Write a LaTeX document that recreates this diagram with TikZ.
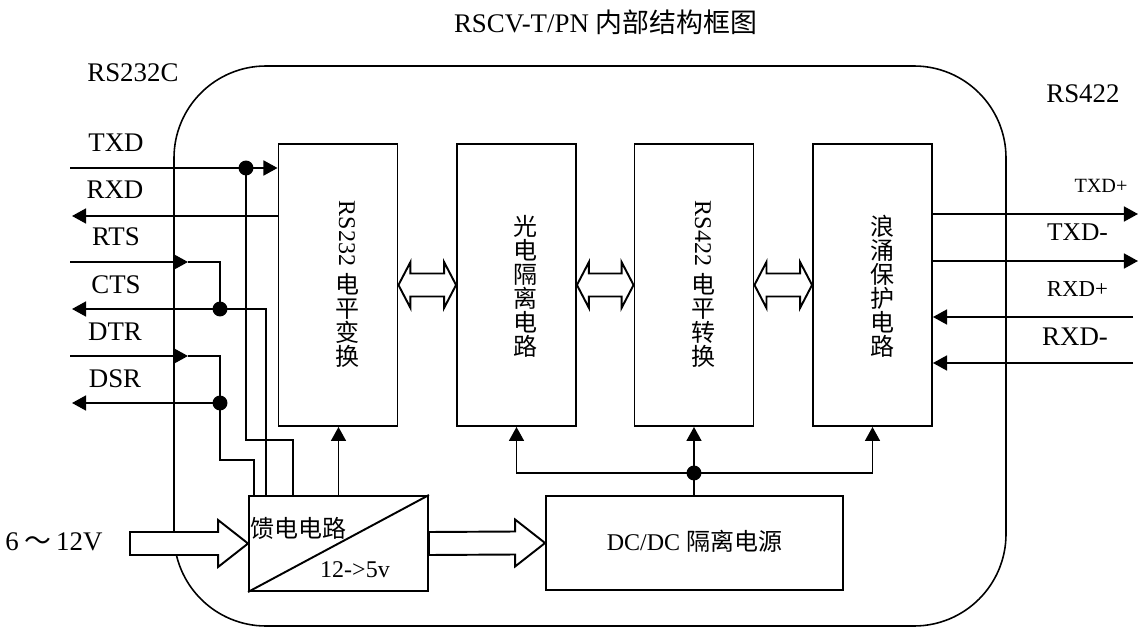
\documentclass[tikz,border=0pt]{standalone}
\usepackage{fontspec}
\setmainfont{Liberation Serif}
\newfontfamily\cjk{Noto Sans CJK SC}
\usetikzlibrary{arrows.meta,calc}
\newcommand\dblarr[2]{\draw[hollow] (#1) -- ++(12,-23) -- ++(0,11.5) -- ($(#2)+(-12,-11.5)$) -- ++(0,-11.5) -- (#2) -- ++(-12,23) -- ++(0,-11.5) -- ($(#1)+(12,11.5)$) -- ++(0,11.5) -- cycle;}
\newcommand\fatarr[2]{\draw[hollow] ($(#1)+(0,-11.5)$) -- ($(#2)+(-30,-11.5)$) -- ++(0,-12) -- (#2) -- ($(#2)+(-30,23.5)$) -- ++(0,-12) -- ($(#1)+(0,11.5)$) -- cycle;}
\begin{document}
\begin{tikzpicture}[x=0.02cm,y=-0.02cm,
  ln/.style={line width=1.1pt},
  arr/.style={line width=1.1pt,-{Triangle[length=8pt,width=8.5pt]}},
  blk/.style={draw,line width=1.1pt,minimum width=2.38cm,minimum height=5.64cm,inner sep=0},
  box/.style={draw,line width=1.1pt,inner sep=0},
  dot/.style={circle,fill,inner sep=0,minimum size=8.5pt},
  hollow/.style={draw,fill=white,line width=1.1pt,line join=miter},
  lbl/.style={inner sep=0,font=\fontsize{15.3}{18}\selectfont},
  mid/.style={inner sep=0,font=\fontsize{13.66}{14}\selectfont},
  vt/.style={inner sep=0,align=center,font=\cjk\fontsize{13.66}{13.66}\selectfont},
  rt/.style={inner sep=0,rotate=-90,font=\fontsize{13.66}{14}\selectfont}
]
\useasboundingbox (0,0) rectangle (1142,628);
% outer border
\draw[line width=0.9pt,rounded corners=1.84cm] (174,66) rectangle (1006,626);

% blocks
\node[blk] (b232) at (338,285) {};
\node[blk] (bopt) at (516.5,285) {};
\node[blk] (b422) at (694,285) {};
\node[blk] (bsurge) at (872.5,285) {};
\node[box,minimum width=3.58cm,minimum height=1.9cm] (feed) at (338.5,543.5) {};
\node[box,minimum width=5.94cm,minimum height=1.88cm] (dcdc) at (694.5,543) {};
\draw[ln] (feed.south west) -- (feed.north east);

% block texts
\node[rt] (t232a) at (347,233.5) {RS232};
\node[vt] (t232b) at (347,320) {电\\平\\变\\换};
\node[vt] (topt) at (525,286) {光\\电\\隔\\离\\电\\路};
\node[rt] (t422a) at (703,233.5) {RS422};
\node[vt] (t422b) at (703,320) {电\\平\\转\\换};
\node[vt] (tsurge) at (882,286) {浪\\涌\\保\\护\\电\\路};
\node[mid,anchor=base] (tfeed) at (298,537) {\cjk 馈电电路};
\node[mid,anchor=base] (t125) at (355,577) {12->5v};
\node[mid,anchor=base] (tdc) at (694.5,550) {DC/DC {\cjk 隔离电源}};

% double arrows between blocks
\dblarr{b232.east}{bopt.west}
\dblarr{bopt.east}{b422.west}
\dblarr{b422.east}{bsurge.west}

% fat arrows
\coordinate (vin) at (130,543.5);
\fatarr{vin}{feed.west}
\fatarr{feed.east}{dcdc.west}

% feed connections
\coordinate (f1) at ($(feed.north west)+(6,0)$);
\coordinate (f2) at ($(feed.north west)+(18,0)$);
\coordinate (f3) at ($(feed.north west)+(45,0)$);
\draw[arr] (feed.north) -- (feed.north |- b232.south);

% left signals
\node[dot] (dtx) at (246,168) {};
\node[dot] (dcts) at (220,309) {};
\node[dot] (ddsr) at (220,403) {};
\coordinate (txdL) at (70,168);
\coordinate (rxdL) at (72,216);
\coordinate (rtsL) at (70,262);
\coordinate (rtsT) at (188,262);
\coordinate (ctsL) at (72,309);
\coordinate (dtrL) at (70,356);
\coordinate (dtrT) at (188,356);
\coordinate (dsrL) at (72,403);
\draw[arr] (txdL) -- (b232.west |- txdL);
\draw[arr] (b232.west |- rxdL) -- (rxdL);
\draw[arr] (rtsL) -- (rtsT);
\draw[ln] (rtsT) -| (dcts.center);
\draw[arr] (dcts.center) -- (ctsL);
\draw[ln] (dcts.center) -- (dcts.center -| f2) -- (f2);
\draw[arr] (dtrL) -- (dtrT);
\draw[ln] (dtrT) -| (ddsr.center);
\draw[arr] (ddsr.center) -- (dsrL);
\draw[ln] (ddsr.center) |- ($(f1)+(0,-35)$) -- (f1);
\draw[ln] (dtx.center) |- ($(f3)+(0,-55)$) -- (f3);

% power bus
\node[dot] (dbus) at (694,473) {};
\draw[ln] (dbus.center |- dcdc.north) -- (dbus.center);
\draw[arr] (dbus.center) -- (dbus.center |- b422.south);
\draw[arr] (dbus.center) -| (bopt.south);
\draw[arr] (dbus.center) -| (bsurge.south);

% right signals
\coordinate (txpR) at (1138,214);
\coordinate (txmR) at (1138,261);
\coordinate (rxpR) at (1133,317);
\coordinate (rxmR) at (1133,363);
\draw[arr] (bsurge.east |- txpR) -- (txpR);
\draw[arr] (bsurge.east |- txmR) -- (txmR);
\draw[arr] (rxpR) -- (bsurge.east |- rxpR);
\draw[arr] (rxmR) -- (bsurge.east |- rxmR);

% labels
\node[lbl,anchor=base] (title) at (605.5,33) {RSCV-T/PN {\cjk 内部结构框图}};
\node[lbl,anchor=base west] (l232c) at (87,82) {RS232C};
\node[lbl,anchor=base west] (l422) at (1046,103) {RS422};
\node[lbl,anchor=base] (ltxd) at (116,152) {TXD};
\node[lbl,anchor=base] (lrxd) at (115,198) {RXD};
\node[lbl,anchor=base] (lrts) at (116,245) {RTS};
\node[lbl,anchor=base] (lcts) at (116,293) {CTS};
\node[lbl,anchor=base] (ldtr) at (115,340) {DTR};
\node[lbl,anchor=base] (ldsr) at (115,387) {DSR};
\node[inner sep=0,anchor=base,font=\fontsize{11.5}{14}\selectfont] (ltxp) at (1101,193) {TXD+};
\node[inner sep=0,anchor=base,font=\fontsize{14.5}{17}\selectfont] (ltxm) at (1077.5,240) {TXD-};
\node[inner sep=0,anchor=base,font=\fontsize{13}{16}\selectfont] (lrxp) at (1077.5,296) {RXD+};
\node[lbl,anchor=base] (lrxm) at (1075,345) {RXD-};
\node[lbl,anchor=base west] (lvin) at (5,550) {6\hspace{3pt}{\cjk ～}\hspace{3pt}12V};
\end{tikzpicture}
\end{document}
